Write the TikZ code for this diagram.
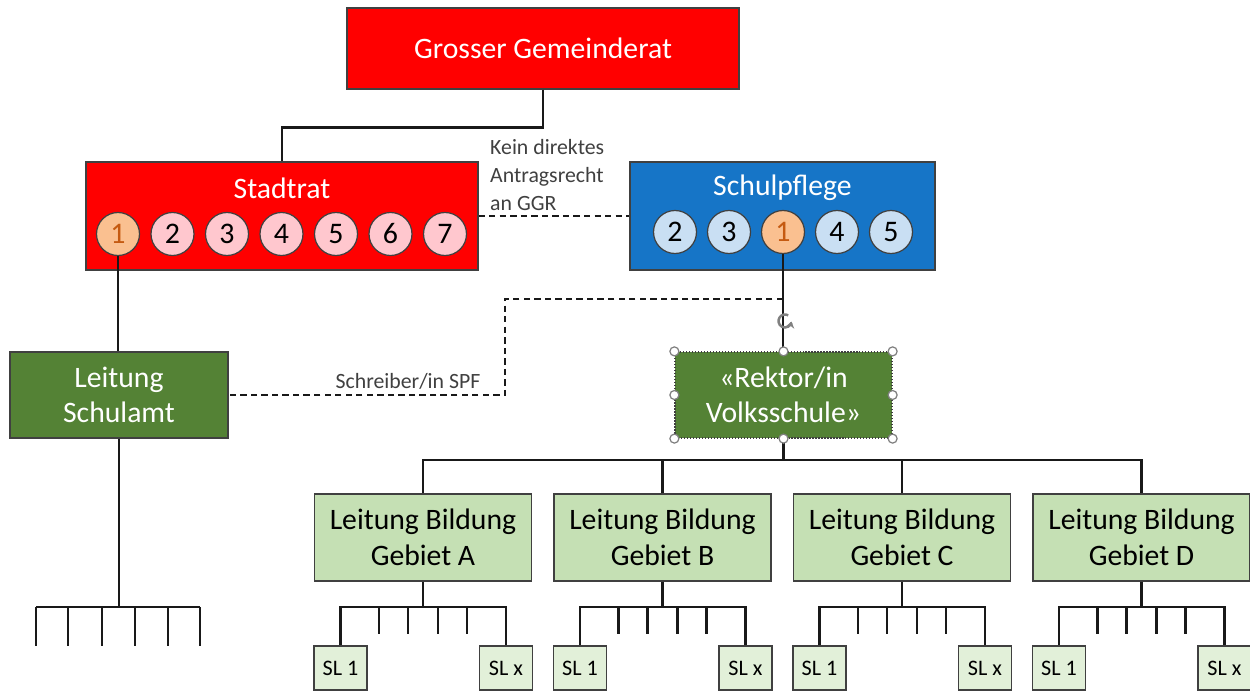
\documentclass[tikz,border=0pt]{standalone}
\usepackage{fontspec}
\setmainfont{Carlito}
\usetikzlibrary{arrows.meta}

\definecolor{ggrred}{RGB}{255,0,0}
\definecolor{spblue}{RGB}{22,117,199}
\definecolor{dkgreen}{RGB}{84,130,53}
\definecolor{ltgreen}{RGB}{197,224,180}
\definecolor{palegreen}{RGB}{226,240,217}
\definecolor{pinkfill}{RGB}{255,199,206}
\definecolor{bluefill}{RGB}{201,223,243}
\definecolor{orangefill}{RGB}{250,192,144}
\definecolor{orangetext}{RGB}{197,90,17}
\definecolor{edge}{RGB}{64,64,64}
\definecolor{labelgray}{RGB}{64,64,64}

\begin{document}
\begin{tikzpicture}[x=0.02cm,y=-0.02cm,
  boxsize/.style 2 args={minimum width=#1*0.02cm, minimum height=#2*0.02cm},
  box/.style={draw=edge, line width=0.7pt, inner sep=0pt, align=center},
  big/.style={font=\fontsize{16.9}{20.2}\selectfont},
  small/.style={font=\fontsize{12.4}{15.9}\selectfont, text=labelgray},
  member/.style={circle, draw=edge, line width=0.7pt, minimum size=43*0.02cm,
                 inner sep=0pt, font=\fontsize{17}{18}\selectfont},
  pinkmember/.style={member, fill=pinkfill},
  bluemember/.style={member, fill=bluefill},
  chair/.style={member, fill=orangefill, text=orangetext},
  slbox/.style={box, fill=palegreen, boxsize={53}{44}, font=\fontsize{12.6}{14}\selectfont},
  conn/.style={draw=black!90, line width=1.3pt},
  dashconn/.style={draw=black!90, line width=1.3pt, dash pattern=on 3.6pt off 2.4pt},
  handle/.style={circle, draw=gray, fill=white, line width=0.7pt, minimum size=9*0.02cm, inner sep=0pt}
]
\useasboundingbox (0,0) rectangle (1250,692);

% Grosser Gemeinderat
\node[box, fill=ggrred, boxsize={392}{81}, big, text=white] (ggr) at (543,48.5) {Grosser Gemeinderat};

% Stadtrat with its seven members
\node[box, fill=ggrred, boxsize={392}{108}] (stadtrat) at (282,216) {};
\node[big, text=white] (sttitle) at (282,188) {Stadtrat};
\node[chair] (st1) at (118,234) {1};
\foreach \i in {2,...,7}
  \node[pinkmember] (st\i) at ({118+(\i-1)*54.5},234) {\i};

% Schulpflege with its five members
\node[box, fill=spblue, boxsize={305}{108}] (schulpflege) at (782.5,216) {};
\node[big, text=white] (sptitle) at (782.5,188) {Schulpflege};
\node[bluemember] (sp2) at (675,232) {2};
\node[bluemember] (sp3) at (729,232) {3};
\node[chair] (sp1) at (783,232) {1};
\node[bluemember] (sp4) at (837,232) {4};
\node[bluemember] (sp5) at (891,232) {5};

% Leitung Schulamt and Rektor/in
\node[box, fill=dkgreen, boxsize={218}{86}, big, text=white] (schulamt) at (119,395) {Leitung\\Schulamt};
\node[box, draw=edge, densely dotted, fill=dkgreen, boxsize={217}{86}, big, text=white] (rektor) at (783.5,395) {«Rektor/in\\Volksschule»};

% Leitung Bildung boxes and their school leaders
\foreach \k/\cx in {A/423,B/662.5,C/902,D/1141.5}{
  \node[box, fill=ltgreen, boxsize={217}{87}, big] (lb\k) at (\cx,537.5) {Leitung Bildung\\Gebiet \k};
  \node[slbox] (sla\k) at (\cx-82.5,668) {SL 1};
  \node[slbox] (slx\k) at (\cx+83,668) {SL x};
  \coordinate (fork\k) at (\cx,607);
  \draw[conn] (lb\k.south) -- (fork\k);
  \draw[conn] (sla\k.north) -- (sla\k.north |- fork\k) -- (slx\k.north |- fork\k) -- (slx\k.north);
  \foreach \dx in {-44,-15,15,44}
    \draw[conn] ([xshift=\dx*0.02cm]fork\k) -- ++(0,27);
}

% Connectors
\draw[conn] (ggr.south) -- ++(0,38) -| (stadtrat.north);
\draw[dashconn] (stadtrat.east) -- (schulpflege.west);
\node[small, anchor=north west, align=left] (kein) at (484,133) {Kein direktes\\Antragsrecht\\an GGR};

\draw[conn] (st1.south) -- (st1.south |- schulamt.north);
\draw[conn] (sp1.south) -- (sp1.south |- rektor.north);

\coordinate (tap) at (783,299);
\coordinate (bend) at (505,395);
\draw[dashconn] (tap) -| (bend) -- (schulamt.east);
\node[small] (spf) at (408,381) {Schreiber/in SPF};

% bus from the Rektor/in to the four areas
\coordinate (busy) at (0,460);
\draw[conn] (rektor.south) -- (rektor.south |- busy);
\draw[conn] (lbA.north) -- (lbA.north |- busy) -- (lbD.north |- busy) -- (lbD.north);
\draw[conn] (lbB.north) -- (lbB.north |- busy);
\draw[conn] (lbC.north) -- (lbC.north |- busy);

% comb below Leitung Schulamt
\coordinate (forkL) at (119,607);
\draw[conn] (schulamt.south) -- (forkL);
\draw[conn] (36,607) -- (200,607);
\foreach \x in {36,68,102,135,168,200}
  \draw[conn] (\x,607) -- (\x,646);

% selection handles around the Rektor/in box
\foreach \a in {north west,north,north east,west,east,south west,south,south east}
  \node[handle] (h-\a) at (rektor.\a) {};
\coordinate (rot) at (785,321);
\draw[gray, line width=1.4pt] (rot) ++(60:6.5*0.02cm) arc[start angle=60, end angle=345, radius=6.5*0.02cm];
\draw[gray, line width=1pt, -{Stealth[length=3.5pt,width=5pt]}] (rot) ++(345:6.5*0.02cm) -- ++(75:0.6pt);
\end{tikzpicture}
\end{document}
